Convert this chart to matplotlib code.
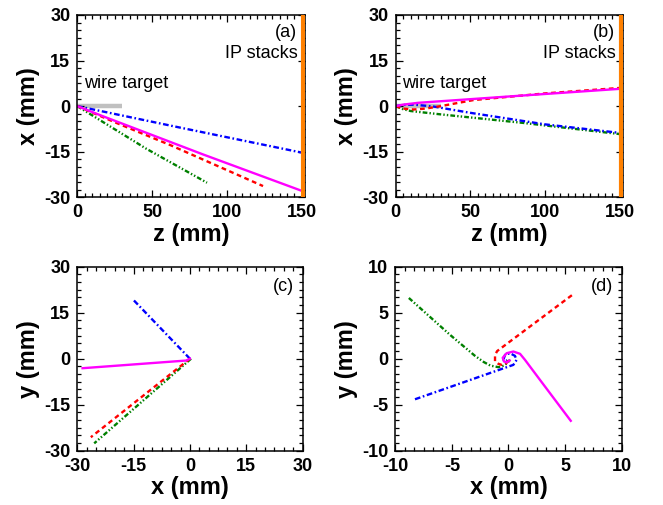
import matplotlib
matplotlib.use("Agg")
import matplotlib.pyplot as plt
from matplotlib.ticker import MultipleLocator, AutoMinorLocator

plt.rcParams['font.family'] = ['Liberation Sans', 'DejaVu Sans']
plt.rcParams['axes.unicode_minus'] = False

# panel (a): z (mm) vs x (mm)
a_mag_z = [0, 17, 84, 150]
a_mag_x = [0, -3.3, -15.9, -27.9]
a_red_z = [0, 26, 62, 124]
a_red_x = [0, -5.5, -12.8, -26.3]
a_blue_z = [0, 69, 150]
a_blue_x = [0, -7.1, -15.3]
a_green_z = [0, 46, 86.6]
a_green_x = [0, -14.0, -25.2]

# panel (b)
b_mag_z = [0, 5, 15, 50, 85, 150]
b_mag_x = [0, 0.5, 1.1, 2.3, 3.5, 5.7]
b_red_z = [0, 5, 12, 20, 30, 52, 100, 150]
b_red_x = [0, -0.8, -1.1, -0.8, 0.0, 2.0, 4.2, 6.0]
b_blue_z = [0, 5, 12, 25, 50, 100, 150]
b_blue_x = [0, 0.4, 0.5, -0.1, -2.2, -6.0, -8.8]
b_green_z = [0, 5, 10, 30, 85, 150]
b_green_x = [0, -1.0, -1.6, -2.7, -5.5, -9.2]

# panel (c): x (mm) vs y (mm)
c_mag_x = [0, -1.0, -28.6]
c_mag_y = [0, -0.6, -3.1]
c_red_x = [0, -26.4]
c_red_y = [0, -25.6]
c_blue_x = [0, -15.0]
c_blue_y = [0, 19.1]
c_green_x = [0.3, -25.5]
c_green_y = [0, -27.6]

# panel (d)
d_mag_x = [5.5, 2.78, 1.46, 1.02, 0.43, -0.16, -0.51, -0.4, -0.16, 0.1]
d_mag_y = [-6.75, -2.3, -0.13, 0.53, 0.78, 0.6, 0.1, -0.3, -0.4, -0.2]
d_red_x = [5.6, 0.13, -1.0, -1.19, -1.19, -0.9, -0.6, -0.2, 0.0]
d_red_y = [6.9, 1.87, 0.83, 0.4, -0.3, -0.55, -0.67, -0.5, -0.2]
d_blue_x = [-8.26, 0.43, 0.72, 0.57, 0.13, -0.3, -0.45, -0.2, 0.0]
d_blue_y = [-4.41, -0.67, -0.13, 0.31, 0.6, 0.42, -0.1, -0.25, 0.0]
d_green_x = [-8.8, -5.17, -3.0, -2.2, -1.6, -0.9, -0.4, -0.05, 0.13]
d_green_y = [6.6, 2.6, 0.35, -0.35, -0.75, -0.92, -0.75, -0.4, -0.1]

MAG = '#ff00ff'
RED = '#ff0000'
BLUE = '#0000ff'
GREEN = '#008000'
LW = 1.7
LABEL_FONT = dict(fontsize=17, fontweight='bold')


def draw_lines(ax, mag, red, blue, green):
    ax.plot(*green, color=GREEN, lw=LW, dashes=(2.0, 0.9, 0.6, 0.9, 0.6, 0.9))
    ax.plot(*blue, color=BLUE, lw=LW, dashes=(2.4, 1.1, 0.7, 1.1))
    ax.plot(*red, color=RED, lw=LW, dashes=(2.0, 1.5))
    ax.plot(*mag, color=MAG, lw=LW)


def style_axes(ax, xlim, ylim, xmaj, ymaj, xminor, yminor, xlabel, ylabel):
    ax.set_xlim(*xlim)
    ax.set_ylim(*ylim)
    ax.xaxis.set_major_locator(MultipleLocator(xmaj))
    ax.yaxis.set_major_locator(MultipleLocator(ymaj))
    ax.xaxis.set_minor_locator(AutoMinorLocator(xminor))
    ax.yaxis.set_minor_locator(AutoMinorLocator(yminor))
    ax.tick_params(which='both', direction='in', top=True, right=True, width=0.9)
    ax.tick_params(which='major', length=5, pad=5)
    ax.tick_params(which='minor', length=3)
    for lab in ax.get_xticklabels() + ax.get_yticklabels():
        lab.set_fontsize(13)
        lab.set_fontweight('bold')
    for sp in ax.spines.values():
        sp.set_linewidth(1.1)
    ax.set_xlabel(xlabel, labelpad=1, **LABEL_FONT)
    ax.set_ylabel(ylabel, labelpad=3, **LABEL_FONT)


fig = plt.figure(figsize=(6.63, 5.05), dpi=100)
ax_a = fig.add_axes([0.1166, 0.6093, 0.3434, 0.361])
ax_b = fig.add_axes([0.5968, 0.6093, 0.3428, 0.361])
ax_c = fig.add_axes([0.1166, 0.1075, 0.3397, 0.3644])
ax_d = fig.add_axes([0.5962, 0.1075, 0.3415, 0.3644])

for ax, data, lab in [(ax_a, (a_mag_z, a_mag_x, a_red_z, a_red_x, a_blue_z, a_blue_x, a_green_z, a_green_x), '(a)'),
                      (ax_b, (b_mag_z, b_mag_x, b_red_z, b_red_x, b_blue_z, b_blue_x, b_green_z, b_green_x), '(b)')]:
    ax.plot([0, 30], [0, 0], color='#c0c0c0', lw=3.2, solid_capstyle='butt', zorder=1)
    draw_lines(ax, data[0:2], data[2:4], data[4:6], data[6:8])
    ax.axvline(150.7, color='#ff8000', lw=3, zorder=5)
    style_axes(ax, (0, 152), (-30, 30), 50, 15, 10, 6, 'z (mm)', 'x (mm)')
    ax.text(147, 24.2, lab, ha='right', va='center', fontsize=13)
    ax.text(147, 15.9, 'IP stacks', ha='right', va='baseline', fontsize=13)
    ax.text(4.3, 6.0, 'wire target', ha='left', va='baseline', fontsize=13)

draw_lines(ax_c, (c_mag_x, c_mag_y), (c_red_x, c_red_y), (c_blue_x, c_blue_y), (c_green_x, c_green_y))
style_axes(ax_c, (-30, 30), (-30, 30), 15, 15, 6, 6, 'x (mm)', 'y (mm)')
ax_c.text(27.8, 23.5, '(c)', ha='right', va='center', fontsize=13)

draw_lines(ax_d, (d_mag_x, d_mag_y), (d_red_x, d_red_y), (d_blue_x, d_blue_y), (d_green_x, d_green_y))
style_axes(ax_d, (-10, 10), (-10, 10), 5, 5, 6, 6, 'x (mm)', 'y (mm)')
ax_d.text(9.26, 7.86, '(d)', ha='right', va='center', fontsize=13)

plt.savefig('out.png', dpi=100)
plt.close()
